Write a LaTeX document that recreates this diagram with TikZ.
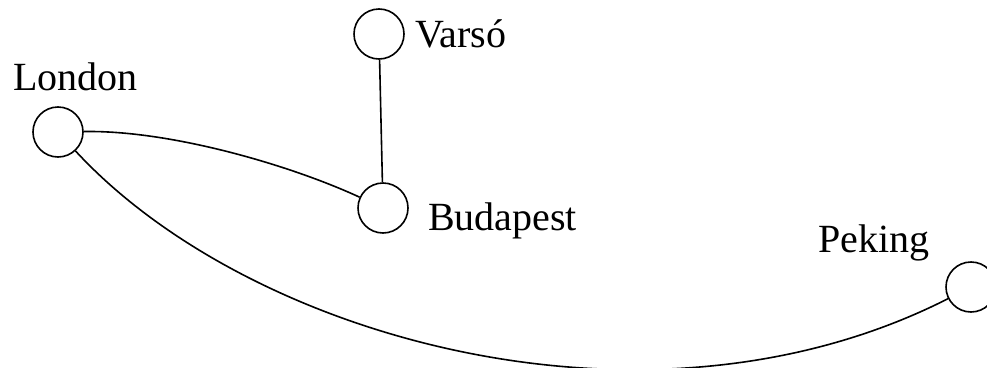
\documentclass[tikz,border=0pt]{standalone}
\usepackage{fontspec}
\setmainfont{Liberation Serif}
\begin{document}
\begin{tikzpicture}[x=1pt,y=-1pt,
  city/.style={circle,draw,line width=1.6pt,minimum size=50pt,inner sep=0pt},
  lbl/.style={anchor=base west,inner sep=0pt,font=\fontsize{40}{44}\selectfont},
  edge/.style={line width=1.6pt}]
\useasboundingbox (0,0) rectangle (987,367);
\node[city] (l) at (58,132) {};
\node[city] (v) at (379,34) {};
\node[city] (b) at (383,208) {};
\node[city] (p) at (971,287) {};
\node[lbl] (tl) at (13,90) {London};
\node[lbl] (tv) at (415,47) {Varsó};
\node[lbl] (tb) at (428,230) {Budapest};
\node[lbl] (tp) at (818,252) {Peking};
\draw[edge] (v) -- (b);
\draw[edge] (l) .. controls (170,130) and (290,165) .. (b);
\draw[edge] (l) .. controls (250,340) and (650,450) .. (p);
\end{tikzpicture}
\end{document}
